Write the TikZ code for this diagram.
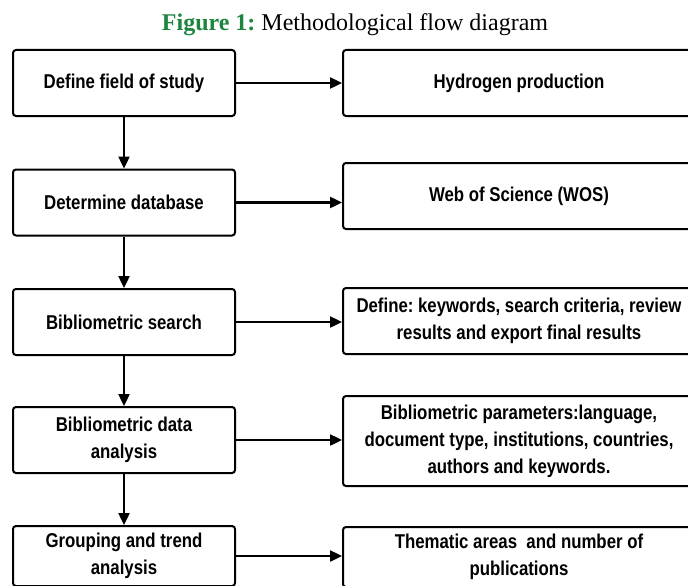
\documentclass[tikz,border=0pt]{standalone}
\usepackage{fontspec}
\setmainfont{Liberation Serif}
\newfontfamily\boxfont[FakeStretch=0.84]{Liberation Sans}
\usetikzlibrary{arrows.meta, positioning}
\definecolor{figgreen}{RGB}{28,134,62}
\frenchspacing

\begin{document}
\begin{tikzpicture}[x=1pt, y=-1pt,
    box/.style={draw, line width=2pt, rounded corners=3pt, align=center, inner sep=0pt,
        font=\boxfont\bfseries\fontsize{20}{27}\selectfont},
    lbox/.style={box, minimum width=222pt, minimum height=66pt},
    rbox/.style={box, minimum width=352pt, minimum height=66pt},
    link/.style={line width=2.4pt, -{Triangle[length=12pt, width=11pt]}}]
    \clip (0,0) rectangle (688,586);
    \node (title) at (355,25) {\fontsize{24}{28}\selectfont\textcolor{figgreen}{\textbf{Figure 1:}} Methodological flow diagram};

    % steps
    \node[lbox] (l1) at (124,83) {Define field of study};
    \node[lbox] (l2) at (124,202.5) {Determine database};
    \node[lbox] (l3) at (124,322) {Bibliometric search};
    \node[lbox] (l4) at (124,440) {Bibliometric data\\analysis};
    \node[lbox, minimum height=60pt] (l5) at (124,556) {Grouping and trend\\analysis};

    % results
    \node[rbox] (r1) at (519,83) {Hydrogen production};
    \node[rbox] (r2) at (519,196) {Web of Science (WOS)};
    \node[rbox] (r3) at (519,321) {Define: keywords, search criteria, review\\results and export final results};
    \node[rbox, minimum height=90pt] (r4) at (519,441) {Bibliometric parameters:language,\\document type, institutions, countries,\\authors and keywords.};
    \node[rbox, minimum height=60pt] (r5) at (519,557) {Thematic areas\ \ and number of\\publications};

    \foreach \i in {1,...,5} {
        \draw[link] (l\i.east) -- (l\i.east -| r\i.west);
    }
    \foreach \i in {1,...,4} {
        \pgfmathsetmacro{\next}{int(\i+1)}
        \draw[link] (l\i.south) -- (l\next.north);
    }
\end{tikzpicture}
\end{document}
